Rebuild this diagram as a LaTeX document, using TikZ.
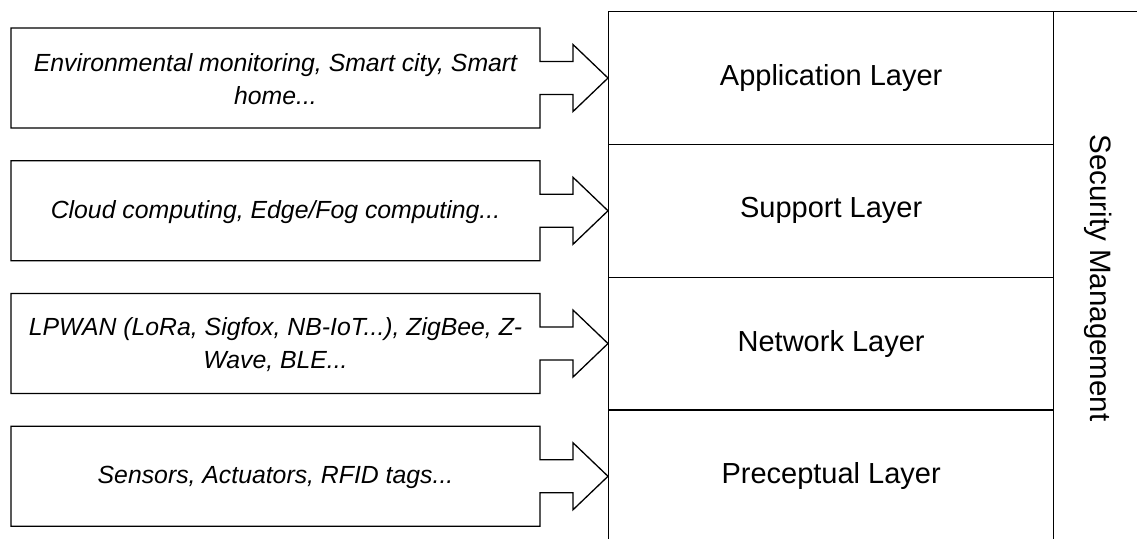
\documentclass[tikz,border=0pt]{standalone}
\usepackage{fontspec}
\setmainfont{Liberation Sans}
\usetikzlibrary{calc}
\begin{document}
\begin{tikzpicture}[x=1pt,y=-1pt,line width=1.3pt,line join=miter,
  boxtext/.style={font=\fontsize{24.8}{33}\selectfont\itshape,align=center},
  layer/.style={draw,minimum width=445pt,minimum height=132.75pt,anchor=north west,inner sep=0pt,
    font=\fontsize{29}{35}\selectfont},
  secbox/.style={draw,minimum width=90pt,minimum height=531pt,anchor=north west,inner sep=0pt}]
\useasboundingbox (0,0) rectangle (1137,538);
\begin{scope}
\clip (-2,-2) rectangle (1139,540);
\node[layer] (app) at (608,11) {Application Layer};
\node[layer] (sup) at (608,143.75) {Support Layer};
\node[layer] (net) at (608,276.5) {Network Layer};
\node[layer] (pre) at (608,409.25) {Preceptual Layer};
\node[secbox] (sec) at (1053,11) {};
\node[rotate=-90,font=\fontsize{29.5}{35}\selectfont] (sectext) at (1098,278) {Security Management};
\end{scope}
\foreach \lay/\nm/\txt in {app/b1/{Environmental monitoring, Smart city, Smart\\home...},
  sup/b2/{Cloud computing, Edge/Fog computing...},
  net/b3/{LPWAN (LoRa, Sigfox, NB-IoT...), ZigBee, Z-\\Wave, BLE...},
  pre/b4/{Sensors, Actuators, RFID tags...}}{
  \draw ($(\lay.west)+(-597,-50)$) -- ($(\lay.west)+(-68,-50)$) -- ($(\lay.west)+(-68,-16.5)$)
    -- ($(\lay.west)+(-35,-16.5)$) -- ($(\lay.west)+(-35,-33.5)$) -- (\lay.west)
    -- ($(\lay.west)+(-35,33.5)$) -- ($(\lay.west)+(-35,16.5)$) -- ($(\lay.west)+(-68,16.5)$)
    -- ($(\lay.west)+(-68,50)$) -- ($(\lay.west)+(-597,50)$) -- cycle;
  \node[boxtext] (\nm) at ($(\lay.west)+(-332.5,1)$) {\txt};
}
\end{tikzpicture}
\end{document}
